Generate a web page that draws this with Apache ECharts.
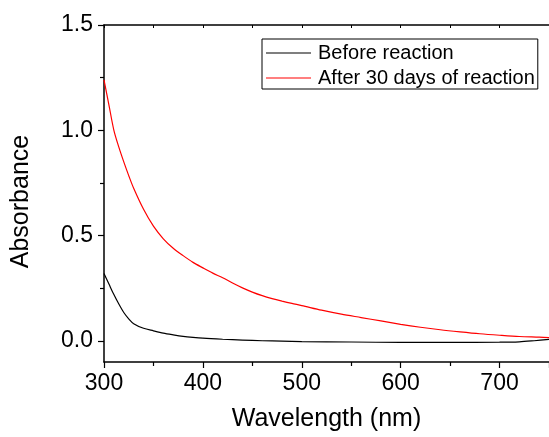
<!DOCTYPE html>
<html>
<head>
<meta charset="utf-8">
<script src="https://cdn.jsdelivr.net/npm/echarts@6/dist/echarts.min.js"></script>
<style>
  html, body { margin: 0; padding: 0; background: #fff; }
  #main { width: 549px; height: 437px; }
</style>
</head>
<body>
<div id="main"></div>
<script>
(function () {
    'use strict';

    // wavelength (nm) / absorbance
    var beforeWl = [300, 305, 310, 315, 320, 325, 330, 340, 350, 360, 370, 380, 390, 400, 420, 440, 460, 480, 500, 550, 600, 650, 700, 720, 735, 750];
    var beforeAbs = [0.32, 0.27, 0.22, 0.175, 0.135, 0.105, 0.082, 0.06, 0.048, 0.037, 0.029, 0.022, 0.017, 0.013, 0.008, 0.004, 0.001, -0.001, -0.003, -0.005, -0.007, -0.007, -0.006, -0.004, 0.001, 0.007];

    var afterWl = [300, 305, 310, 315, 320, 325, 330, 340, 350, 360, 370, 380, 390, 400, 410, 420, 430, 440, 450, 460, 470, 480, 490, 500, 520, 540, 560, 580, 600, 620, 640, 660, 680, 700, 720, 740, 750];
    var afterAbs = [1.24, 1.12, 1.0, 0.92, 0.85, 0.785, 0.725, 0.625, 0.545, 0.485, 0.44, 0.405, 0.373, 0.347, 0.322, 0.30, 0.275, 0.252, 0.232, 0.215, 0.201, 0.189, 0.178, 0.168, 0.146, 0.127, 0.111, 0.095, 0.079, 0.065, 0.053, 0.043, 0.034, 0.027, 0.021, 0.018, 0.016];

    var yMajor = [0, 0.5, 1.0, 1.5];
    var yMinor = [0.25, 0.75, 1.25];
    var seriesNames = ['Before reaction', 'After 30 days of reaction'];

    function pairs(xs, ys) {
        return xs.map(function (x, i) { return [x, ys[i]]; });
    }

    var font = 'Liberation Sans, Arial, sans-serif';
    var axisLine = { show: true, onZero: false, lineStyle: { color: '#000', width: 1.5 } };

    var myChart = echarts.init(document.getElementById('main'));

    var option = {
        animation: false,
        backgroundColor: '#fff',
        grid: { left: 104, top: 25, width: 450, height: 337 },
        legend: {
            orient: 'vertical',
            left: 262,
            top: 39,
            padding: [4, 3, 1, 4],
            borderColor: '#000',
            borderWidth: 1,
            icon: 'rect',
            itemWidth: 45,
            itemHeight: 1.2,
            itemGap: 5,
            textStyle: { fontFamily: font, fontSize: 20, color: '#000', padding: [0, 0, 0, 2] },
            data: seriesNames
        },
        xAxis: [{
            type: 'value',
            position: 'bottom',
            min: 300,
            max: 750,
            interval: 100,
            axisLine: axisLine,
            axisTick: { length: 6, lineStyle: { color: '#000', width: 1.2 } },
            minorTick: { show: true, splitNumber: 2, length: 4, lineStyle: { color: '#000', width: 1.2 } },
            splitLine: { show: false },
            axisLabel: { showMaxLabel: false, fontFamily: font, fontSize: 23, color: '#000', margin: 10 },
            name: 'Wavelength (nm)',
            nameLocation: 'middle',
            nameGap: 45,
            nameTextStyle: { fontFamily: font, fontSize: 25, color: '#000' }
        }, {
            type: 'value',
            position: 'top',
            min: 300,
            max: 750,
            interval: 50,
            axisLine: axisLine,
            axisTick: { inside: true, length: 3, lineStyle: { color: '#000', width: 1 } },
            axisLabel: { show: false },
            splitLine: { show: false }
        }],
        yAxis: [{
            type: 'value',
            position: 'left',
            min: -0.1,
            max: 1.5,
            axisLine: axisLine,
            axisTick: { customValues: yMajor, length: 6, lineStyle: { color: '#000', width: 1.2 } },
            axisLabel: {
                customValues: yMajor,
                fontFamily: font, fontSize: 23, color: '#000', margin: 11,
                formatter: function (v) { return v.toFixed(1); }
            },
            splitLine: { show: false },
            name: 'Absorbance',
            nameLocation: 'middle',
            nameRotate: 90,
            nameGap: 70,
            nameTextStyle: { fontFamily: font, fontSize: 25, color: '#000', padding: [0, 16, 0, 0] }
        }, {
            type: 'value',
            position: 'left',
            min: -0.1,
            max: 1.5,
            axisLine: { show: false },
            axisTick: { customValues: yMinor, length: 4, lineStyle: { color: '#000', width: 1.2 } },
            axisLabel: { show: false },
            splitLine: { show: false }
        }],
        series: [{
            name: seriesNames[0],
            type: 'line',
            xAxisIndex: 0,
            yAxisIndex: 0,
            symbol: 'none',
            smooth: 0.3,
            color: '#000',
            lineStyle: { color: '#000', width: 1.2 },
            data: pairs(beforeWl, beforeAbs)
        }, {
            name: seriesNames[1],
            type: 'line',
            xAxisIndex: 0,
            yAxisIndex: 0,
            symbol: 'none',
            smooth: 0.3,
            color: '#ff0000',
            lineStyle: { color: '#ff0000', width: 1.2 },
            data: pairs(afterWl, afterAbs)
        }]
    };

    myChart.setOption(option);
    window.addEventListener('resize', function () {
        myChart.resize();
    });
})();
</script>
</body>
</html>
